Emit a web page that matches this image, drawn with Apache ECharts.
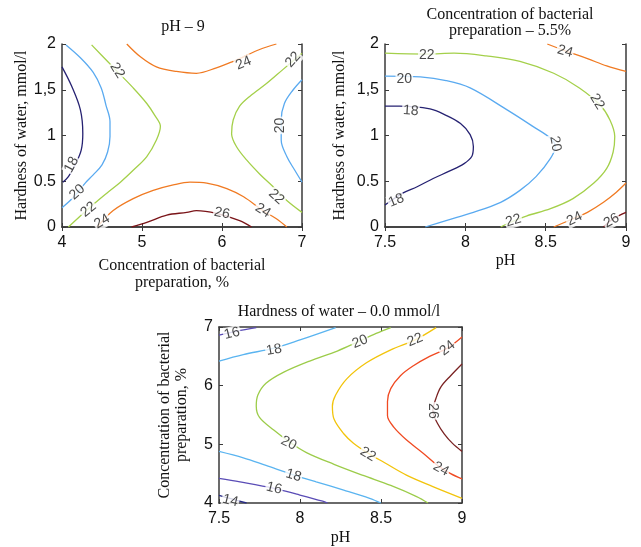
<!DOCTYPE html>
<html><head><meta charset="utf-8">
<script src="https://cdn.jsdelivr.net/npm/echarts@6/dist/echarts.min.js"></script>
<style>html,body{margin:0;padding:0;background:#fff}#c{width:641px;height:547px}</style>
</head><body><div id="c"></div><script>
// ---------- tick labels ----------
const hardnessTicks = ['0', '0.5', '1', '1,5', '2'];
const concTicks = ['4', '5', '6', '7'];
const phTicks = ['7.5', '8', '8.5', '9'];
const concTicks3 = ['4', '5', '6', '7'];

// ---------- Panel 1: pH = 9 (x: concentration %, y: hardness mmol/l) ----------
const p1_18 = [[4.00,1.75],[4.12,1.54],[4.23,1.28],[4.26,1.02],[4.24,0.84],[4.17,0.69],[4.08,0.55],[4.01,0.49]];
const p1_20a = [[4.05,1.99],[4.23,1.85],[4.39,1.69],[4.49,1.52],[4.55,1.33],[4.60,1.15],[4.60,0.99],[4.57,0.82],[4.50,0.68],[4.39,0.57],[4.29,0.48],[4.15,0.33],[4.00,0.21]];
const p1_22a = [[4.37,1.99],[4.58,1.80],[4.69,1.70],[4.89,1.52],[5.06,1.35],[5.16,1.22],[5.23,1.10],[5.18,0.95],[5.06,0.77],[4.89,0.62],[4.73,0.49],[4.56,0.37],[4.33,0.20],[4.08,0.00]];
const p1_24a = [[4.81,2.00],[4.98,1.86],[5.18,1.75],[5.43,1.70],[5.68,1.68],[5.93,1.74],[6.14,1.81],[6.27,1.86],[6.47,1.94],[6.68,2.00]];
const p1_24b = [[4.44,0.00],[4.64,0.18],[4.89,0.31],[5.14,0.40],[5.39,0.46],[5.60,0.49],[5.81,0.48],[6.06,0.42],[6.27,0.33],[6.51,0.18],[6.68,0.09],[6.81,0.00]];
const p1_26 = [[4.87,0.00],[5.06,0.05],[5.31,0.13],[5.56,0.16],[5.68,0.18],[5.93,0.15],[6.22,0.07],[6.37,0.00]];
const p1_22b = [[7.00,1.90],[6.76,1.72],[6.56,1.57],[6.35,1.43],[6.22,1.32],[6.14,1.17],[6.12,1.02],[6.18,0.88],[6.31,0.73],[6.47,0.58],[6.64,0.44],[6.81,0.29],[7.00,0.16]];
const p1_20b = [[7.00,1.61],[6.89,1.50],[6.78,1.35],[6.74,1.17],[6.74,0.95],[6.81,0.77],[6.91,0.62],[7.00,0.49]];
const p1Labels = [[4.12,0.68,'18'],[4.19,0.38,'20'],[4.33,0.19,'22'],[4.69,1.71,'22'],[4.50,0.06,'24'],[6.00,0.15,'26'],[6.51,0.18,'24'],[6.68,0.33,'22'],[6.73,1.11,'20'],[6.89,1.83,'22'],[6.27,1.79,'24']];

// ---------- Panel 2: concentration = 5.5% (x: pH, y: hardness) ----------
const p2_18 = [[7.50,1.32],[7.59,1.32],[7.78,1.29],[7.88,1.22],[7.97,1.13],[8.03,1.01],[8.05,0.88],[8.04,0.77],[7.99,0.69],[7.90,0.61],[7.80,0.53],[7.70,0.44],[7.61,0.37],[7.50,0.24]];
const p2_20 = [[7.50,1.65],[7.72,1.64],[7.88,1.60],[8.03,1.52],[8.26,1.28],[8.42,1.10],[8.53,0.97],[8.56,0.88],[8.53,0.75],[8.44,0.55],[8.34,0.40],[8.22,0.27],[8.05,0.16],[7.88,0.07],[7.75,0.00]];
const p2_22 = [[7.50,1.90],[7.76,1.89],[7.93,1.90],[8.13,1.87],[8.34,1.81],[8.55,1.68],[8.71,1.52],[8.84,1.33],[8.90,1.17],[8.93,0.99],[8.92,0.82],[8.88,0.64],[8.80,0.48],[8.67,0.31],[8.53,0.20],[8.38,0.12],[8.28,0.05],[8.22,0.00]];
const p2_24a = [[8.51,2.00],[8.63,1.92],[8.76,1.84],[8.88,1.76],[9.00,1.70]];
const p2_24b = [[9.00,0.48],[8.94,0.38],[8.86,0.27],[8.76,0.16],[8.67,0.09],[8.55,0.00]];
const p2_26 = [[9.00,0.16],[8.92,0.09],[8.86,0.00]];
const p2Labels = [[7.76,1.88,'22'],[7.62,1.62,'20'],[7.66,1.27,'18'],[7.57,0.29,'18'],[8.56,0.91,'20'],[8.82,1.37,'22'],[8.62,1.92,'24'],[8.30,0.07,'22'],[8.68,0.09,'24'],[8.91,0.07,'26']];

// ---------- Panel 3: hardness = 0.0 mmol/l (x: pH, y: concentration %) ----------
const p3_16a = [[7.50,6.86],[7.61,6.93],[7.73,6.99]];
const p3_18a = [[7.50,6.42],[7.65,6.53],[7.84,6.64],[8.00,6.78],[8.22,6.99]];
const p3_20 = [[8.56,6.99],[8.47,6.89],[8.36,6.75],[8.23,6.59],[8.06,6.42],[7.90,6.23],[7.79,6.04],[7.74,5.84],[7.73,5.65],[7.75,5.46],[7.84,5.24],[7.93,5.05],[8.04,4.86],[8.21,4.66],[8.39,4.47],[8.56,4.30],[8.72,4.11],[8.79,4.00]];
const p3_22 = [[8.84,6.99],[8.71,6.78],[8.56,6.61],[8.41,6.39],[8.29,6.12],[8.22,5.84],[8.20,5.65],[8.21,5.43],[8.27,5.18],[8.33,5.02],[8.42,4.85],[8.52,4.69],[8.66,4.47],[8.82,4.28],[9.00,4.08]];
const p3_24 = [[9.00,6.83],[8.91,6.64],[8.80,6.50],[8.70,6.34],[8.62,6.17],[8.56,5.95],[8.54,5.73],[8.54,5.49],[8.58,5.29],[8.66,5.07],[8.76,4.85],[8.85,4.64],[8.93,4.50],[9.00,4.41]];
const p3_26 = [[9.00,6.37],[8.93,6.17],[8.87,5.98],[8.84,5.79],[8.82,5.57],[8.85,5.35],[8.89,5.18],[8.94,5.02],[9.00,4.88]];
const p3_18b = [[7.50,4.88],[7.65,4.77],[7.79,4.64],[7.96,4.48],[8.10,4.36],[8.27,4.22],[8.43,4.08],[8.50,4.00]];
const p3_16b = [[7.50,4.42],[7.63,4.36],[7.84,4.25],[7.98,4.15],[8.14,4.03],[8.17,4.00]];
const p3_14 = [[7.50,4.13],[7.59,4.06],[7.67,4.00]];
const p3Labels = [[7.58,6.89,'16'],[7.84,6.61,'18'],[8.37,6.75,'20'],[8.71,6.78,'22'],[8.91,6.64,'24'],[8.82,5.57,'26'],[7.93,5.02,'20'],[8.42,4.83,'22'],[8.87,4.58,'24'],[7.96,4.47,'18'],[7.84,4.25,'16'],[7.57,4.04,'14']];

// ---------- styles ----------
const C = {14:'#262a86', 16:'#5a4cb6', 18:'#262272', 20:'#5aaaf0', 22:'#a4d04a', 24:'#f07a22', 26:'#7a1418'};
const C3 = {14:'#262a86', 16:'#5a4cb6', 18:'#5ab4f0', 20:'#9ccc4a', 22:'#f2c40c', 24:'#f04a22', 26:'#7a2222'};
const p1Rot = [62, 42, 40, -58, 30, -12, -32, -42, 90, 48, 22];
const p2Rot = [0, 0, -4, 22, -80, -58, -16, 16, 26, 28];
const p3Rot = [14, 10, 22, 22, 38, -90, -26, -30, -28, -16, -14, -14];

const panels = [
  {lines:[[p1_18,18],[p1_20a,20],[p1_22a,22],[p1_24a,24],[p1_24b,24],[p1_26,26],[p1_22b,22],[p1_20b,20]], colors:C, labels:p1Labels, rot:p1Rot},
  {lines:[[p2_18,18],[p2_20,20],[p2_22,22],[p2_24a,24],[p2_24b,24],[p2_26,26]], colors:C, labels:p2Labels, rot:p2Rot},
  {lines:[[p3_16a,16],[p3_18a,18],[p3_20,20],[p3_22,22],[p3_24,24],[p3_26,26],[p3_18b,18],[p3_16b,16],[p3_14,14]], colors:C3, labels:p3Labels, rot:p3Rot}
];

const serif = 'Liberation Serif';
const sans = 'Liberation Sans';
const grids = [
  {left:62, top:44, width:240, height:183},
  {left:385, top:44, width:241, height:183},
  {left:219, top:327, width:243, height:181}
];
const axisRanges = [
  {x:[4,7,1,concTicks], y:[0,2,0.5,hardnessTicks], xName:'Concentration of bacterial\npreparation, %', xGap:30, yName:'Hardness of water, mmol/l', yGap:32},
  {x:[7.5,9,0.5,phTicks], y:[0,2,0.5,hardnessTicks], xName:'pH', xGap:24, yName:'Hardness of water, mmol/l', yGap:37},
  {x:[7.5,9,0.5,phTicks], y:[4,7,1,concTicks3], xName:'pH', xGap:26, yName:'Concentration of bacterial\npreparation, %', yGap:29}
];

function tickFmt(arr, min, step){ return v => { const i = Math.round((v-min)/step); return arr[i] !== undefined ? arr[i] : ''; }; }
const lineSty = {color:'#3a3a3a', width:1.5};
const tickSty = {show:true, inside:true, length:4, lineStyle:{color:'#3a3a3a'}};
const xAxes = [], yAxes = [];
axisRanges.forEach((a,g)=>{
  xAxes.push({gridIndex:g, type:'value', min:a.x[0], max:a.x[1], interval:a.x[2],
    axisLine:{show:true, lineStyle:lineSty}, axisTick:tickSty,
    axisLabel:{fontFamily:sans, fontSize:16, color:'#111', margin:8, formatter:tickFmt(a.x[3],a.x[0],a.x[2])},
    splitLine:{show:false}, name:a.xName, nameLocation:'middle', nameGap:a.xGap,
    nameTextStyle:{fontFamily:serif, fontSize:16, color:'#111', lineHeight:17}});
  yAxes.push({gridIndex:g, type:'value', min:a.y[0], max:a.y[1], interval:a.y[2],
    axisLine:{show:true, lineStyle:lineSty}, axisTick:tickSty,
    axisLabel:{fontFamily:sans, fontSize:16, color:'#111', margin:6, formatter:tickFmt(a.y[3],a.y[0],a.y[2])},
    splitLine:{show:false}, name:a.yName, nameLocation:'middle', nameGap:a.yGap,
    nameTextStyle:{fontFamily:serif, fontSize:16, color:'#111', lineHeight:17}});
});
axisRanges.forEach((a,g)=>{
  xAxes.push({gridIndex:g, type:'value', position:'top', min:a.x[0], max:a.x[1], interval:a.x[2],
    axisLine:{show:true, lineStyle:lineSty}, axisTick:tickSty, axisLabel:{show:false}, splitLine:{show:false}});
  yAxes.push({gridIndex:g, type:'value', position:'right', min:a.y[0], max:a.y[1], interval:a.y[2],
    axisLine:{show:true, lineStyle:lineSty}, axisTick:tickSty, axisLabel:{show:false}, splitLine:{show:false}});
});

const series = [];
panels.forEach((p,g)=>{
  p.lines.forEach(([pts,lvl])=>{
    series.push({type:'line', xAxisIndex:g, yAxisIndex:g, data:pts, showSymbol:false, symbol:'none',
      smooth:0.35, lineStyle:{color:p.colors[lvl], width:1.3}, silent:true, z:2});
  });
  series.push({type:'scatter', xAxisIndex:g, yAxisIndex:g, symbolSize:0, silent:true, z:5,
    data:p.labels.map((l,i)=>({value:[l[0],l[1]], name:l[2], label:{rotate:p.rot[i]}})),
    label:{show:true, position:'inside', formatter:'{b}', fontFamily:sans, fontSize:14, color:'#1a1a1a',
      backgroundColor:'#fff', padding:[0,1]}});
});

const chart = echarts.init(document.getElementById('c'), null, {renderer:'canvas'});
chart.setOption({
  animation:false,
  backgroundColor:'#fff',
  grid:grids,
  xAxis:xAxes, yAxis:yAxes, series:series,
  graphic:[
    {type:'text', x:183, y:27, style:{text:'pH – 9', font:'16px "Liberation Serif"', fill:'#111', textAlign:'center', textVerticalAlign:'middle'}},
    {type:'text', x:510, y:23, style:{text:'Concentration of bacterial\npreparation – 5.5%', font:'16px "Liberation Serif"', lineHeight:16, fill:'#111', textAlign:'center', textVerticalAlign:'middle'}},
    {type:'text', x:339, y:312, style:{text:'Hardness of water – 0.0 mmol/l', font:'16px "Liberation Serif"', fill:'#111', textAlign:'center', textVerticalAlign:'middle'}}
  ]
});
</script></body></html>
